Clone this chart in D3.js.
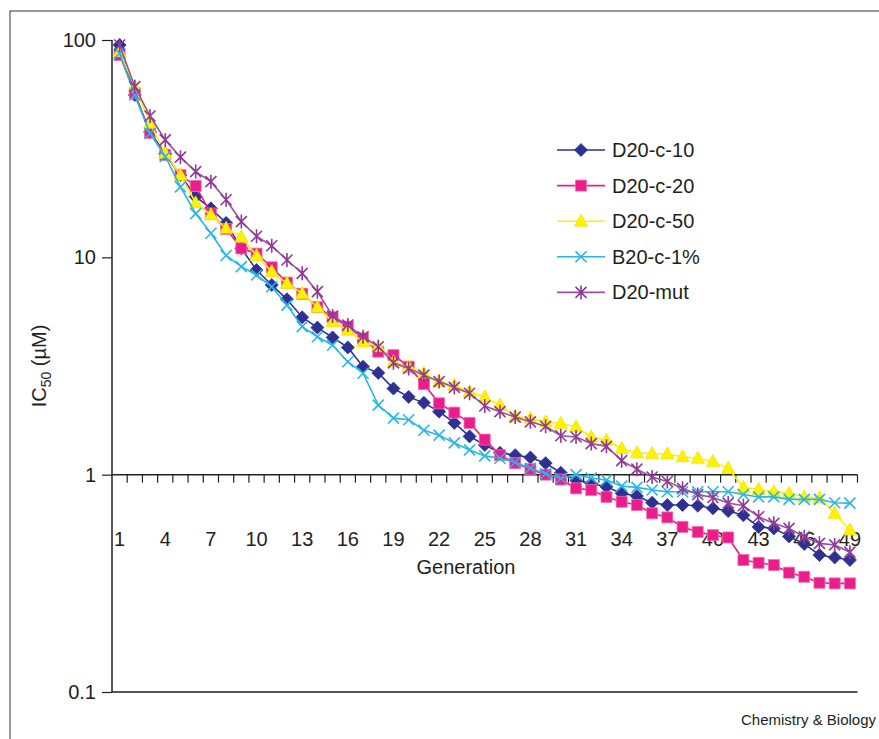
<!DOCTYPE html>
<html>
<head>
<meta charset="utf-8">
<script src="https://cdn.jsdelivr.net/npm/d3@7"></script>
<style>
  body { margin: 0; background: #fff; }
  svg { display: block; font-family: "Liberation Sans", Arial, sans-serif; }
</style>
</head>
<body>
<svg width="879" height="739"></svg>
<script>
// generations (category axis)
const generations = [1,2,3,4,5,6,7,8,9,10,11,12,13,14,15,16,17,18,19,20,21,22,23,24,25,
  26,27,28,29,30,31,32,33,34,35,36,37,38,39,40,41,42,43,44,45,46,47,48,49];
const labelGens = [1,4,7,10,13,16,19,22,25,28,31,34,37,40,43,46,49];
const yTicks = [0.1, 1, 10, 100];

// IC50 values (µM)
const d20c10 = [94.8,55.9,37.7,30,23.9,19.0,16.8,14.4,11.0,8.74,7.46,6.41,5.30,4.75,4.28,3.85,3.14,2.94,2.49,2.28,
  2.14,1.95,1.73,1.50,1.37,1.26,1.23,1.20,1.13,1.02,0.944,0.91,0.88,0.82,0.797,0.743,0.725,0.725,0.72,0.70,
  0.68,0.65,0.575,0.566,0.52,0.48,0.427,0.416,0.405];
const d20c20 = [85.3,56.9,37.4,29.6,23.9,21.3,15.9,13.5,11.0,10.4,9.0,7.65,6.8,5.9,5.30,4.80,4.24,3.68,3.55,3.14,
  2.61,2.13,1.93,1.73,1.45,1.23,1.13,1.06,1.0,0.95,0.865,0.85,0.79,0.75,0.725,0.664,0.636,0.575,0.545,0.527,
  0.514,0.405,0.393,0.384,0.354,0.339,0.318,0.316,0.316];
const d20c50 = [88.4,61.0,41.4,30.1,23.9,17.8,15.7,13.6,12.4,10.2,8.6,7.59,6.82,5.9,5.06,4.62,4.08,3.88,3.31,3.14,
  2.93,2.68,2.58,2.41,2.28,2.09,1.85,1.82,1.75,1.72,1.66,1.49,1.44,1.32,1.26,1.25,1.245,1.21,1.19,1.15,
  1.07,0.874,0.855,0.834,0.82,0.79,0.78,0.664,0.556];
const b20c1 = [86.9,55.9,37.2,29.1,21.1,15.9,12.9,10.2,9.06,8.29,7.32,6.03,4.80,4.31,3.94,3.31,2.93,2.09,1.82,1.79,
  1.60,1.52,1.40,1.30,1.22,1.19,1.14,1.07,1.01,0.96,1.0,0.965,0.944,0.886,0.874,0.85,0.834,0.834,0.834,0.834,
  0.834,0.81,0.79,0.79,0.77,0.77,0.77,0.743,0.74];
const d20mut = [94.8,61,44.7,34.7,28.9,24.8,22.3,18.4,14.6,12.5,11.3,9.72,8.44,6.95,5.37,4.88,4.31,3.88,3.27,3.08,
  2.87,2.68,2.52,2.37,2.07,1.95,1.84,1.75,1.67,1.51,1.49,1.39,1.35,1.16,1.06,0.976,0.93,0.865,0.81,0.785,
  0.74,0.72,0.64,0.597,0.566,0.518,0.483,0.475,0.44];

const series = [
  { name: "D20-c-10", values: d20c10, line: "#2e3192", fill: "#2e3192", stroke: "#2e3192", shape: "diamond" },
  { name: "D20-c-20", values: d20c20, line: "#ec1c8c", fill: "#ec1c8c", stroke: "#f06eaa", shape: "square" },
  { name: "D20-c-50", values: d20c50, line: "#fff200", fill: "#fff200", stroke: "#f2e200", shape: "triangle" },
  { name: "B20-c-1%", values: b20c1, line: "#29b5e8", fill: "none", stroke: "#29b5e8", shape: "cross" },
  { name: "D20-mut", values: d20mut, line: "#9b4f9f", fill: "none", stroke: "#8e3a96", shape: "star" }
];

const svg = d3.select("svg");
const textColor = "#231f20";

// outer frame
svg.append("rect")
  .attr("x", 10).attr("y", 11)
  .attr("width", 900).attr("height", 760)
  .attr("fill", "none").attr("stroke", "#333").attr("stroke-width", 1);

const x = d3.scaleBand().domain(generations).range([112, 857.5]);
const y = d3.scaleLog().domain([0.1, 100]).range([692, 40]);
const cx = d => x(d) + x.bandwidth() / 2;

// y axis
const yAxis = svg.append("g")
  .attr("transform", "translate(112,0)")
  .call(d3.axisLeft(y).tickValues(yTicks).tickSize(10).tickPadding(6)
    .tickFormat(d => d3.format("~g")(d)));
yAxis.select(".domain").attr("stroke", "#231f20").attr("stroke-width", 1.5).attr("d", "M0,40V692");
yAxis.selectAll(".tick line").attr("stroke", "#231f20").attr("stroke-width", 1.2);
yAxis.selectAll(".tick text").attr("font-size", 20).attr("fill", textColor)
  .attr("font-family", "Liberation Sans, Arial, sans-serif");

// bottom border of plot
svg.append("line")
  .attr("x1", 112).attr("x2", x.range()[1])
  .attr("y1", y(0.1)).attr("y2", y(0.1))
  .attr("stroke", "#231f20").attr("stroke-width", 1.5);

// category axis crossing at 1
const xg = svg.append("g").attr("transform", `translate(0,${y(1)})`);
xg.append("line")
  .attr("x1", 112).attr("x2", x.range()[1])
  .attr("stroke", "#231f20").attr("stroke-width", 1.5);
xg.selectAll(".tk")
  .data(generations.slice(1).map(d => x(d)).concat([x.range()[1]]))
  .enter().append("line")
  .attr("x1", d => d).attr("x2", d => d)
  .attr("y1", 0).attr("y2", 8)
  .attr("stroke", "#231f20").attr("stroke-width", 1.2);
xg.selectAll(".lbl")
  .data(labelGens)
  .enter().append("text")
  .attr("x", d => cx(d))
  .attr("y", 71)
  .attr("text-anchor", "middle")
  .attr("font-size", 20)
  .attr("fill", textColor)
  .text(d => d);

svg.append("text")
  .attr("x", 466).attr("y", 574)
  .attr("text-anchor", "middle")
  .attr("font-size", 20).attr("fill", textColor)
  .text("Generation");

const yTitle = svg.append("text")
  .attr("transform", "translate(46,366) rotate(-90)")
  .attr("text-anchor", "middle")
  .attr("font-size", 20).attr("fill", textColor);
yTitle.append("tspan").text("IC");
yTitle.append("tspan").attr("font-size", 14).attr("dy", 5).text("50");
yTitle.append("tspan").attr("dy", -5).text(" (µM)");

// marker shapes
function markerPath(shape) {
  switch (shape) {
    case "diamond": return "M0,-6.5L6.5,0L0,6.5L-6.5,0Z";
    case "square": return "M-5.5,-5.5H5.5V5.5H-5.5Z";
    case "triangle": return "M0,-7L6.5,5L-6.5,5Z";
    case "cross": return "M-5.5,-5.5L5.5,5.5M-5.5,5.5L5.5,-5.5";
    case "star": return "M-5.5,-5.5L5.5,5.5M-5.5,5.5L5.5,-5.5M0,-7V7";
  }
}

const line = d3.line()
  .x((d, i) => cx(generations[i]))
  .y(d => y(d));

series.forEach(s => {
  const g = svg.append("g");
  g.append("path")
    .attr("d", line(s.values))
    .attr("fill", "none")
    .attr("stroke", s.line)
    .attr("stroke-width", 1.6);
  g.selectAll("path.m")
    .data(s.values)
    .enter().append("path")
    .attr("class", "m")
    .attr("transform", (d, i) => `translate(${cx(generations[i])},${y(d)})`)
    .attr("d", markerPath(s.shape))
    .attr("fill", s.fill)
    .attr("stroke", s.stroke)
    .attr("stroke-width", s.fill === "none" ? 1.6 : 0.8);
});

// legend
const legend = svg.append("g").attr("transform", "translate(557,150)");
series.forEach((s, i) => {
  const row = legend.append("g").attr("transform", `translate(0,${i * 35.6})`);
  row.append("line").attr("x1", 0).attr("x2", 48)
    .attr("stroke", s.line).attr("stroke-width", 1.6);
  row.append("path")
    .attr("transform", "translate(24,0)")
    .attr("d", markerPath(s.shape))
    .attr("fill", s.fill).attr("stroke", s.stroke)
    .attr("stroke-width", s.fill === "none" ? 1.6 : 0.8);
  row.append("text")
    .attr("x", 55).attr("y", 7)
    .attr("font-size", 20).attr("fill", textColor)
    .text(s.name);
});

svg.append("text")
  .attr("x", 876).attr("y", 725)
  .attr("text-anchor", "end")
  .attr("font-size", 15).attr("fill", textColor)
  .text("Chemistry & Biology");
</script>
</body>
</html>
